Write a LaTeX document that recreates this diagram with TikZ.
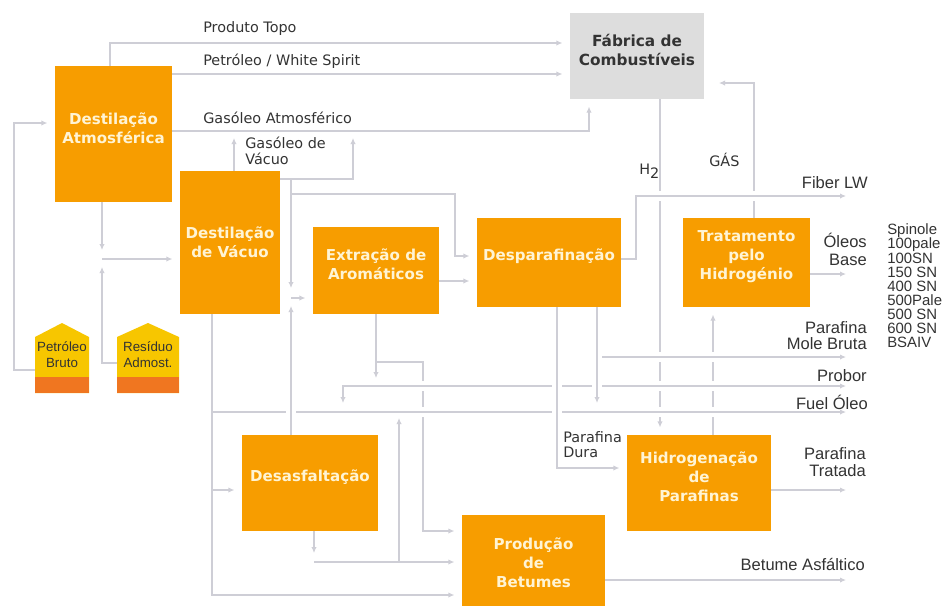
\documentclass[tikz,border=0pt]{standalone}
\usepackage{fontspec}
\setmainfont{DejaVu Sans}
\newfontfamily\lib{Liberation Sans}
\usetikzlibrary{arrows.meta,fit}
\definecolor{org}{RGB}{247,157,0}
\definecolor{boxtxt}{RGB}{255,244,212}
\definecolor{gbox}{RGB}{221,221,221}
\definecolor{ln}{RGB}{206,206,214}
\definecolor{lbl}{RGB}{51,51,51}
\definecolor{housey}{RGB}{247,198,0}
\definecolor{houseb}{RGB}{240,118,32}
\begin{document}
\begin{tikzpicture}[x=0.75pt,y=-0.75pt,
  obox/.style={fill=org, inner sep=0pt, text=boxtxt, align=center,
    font=\fontsize{11.3}{14.2}\selectfont\bfseries},
  gbx/.style={fill=gbox, inner sep=0pt, text=lbl, align=center,
    font=\fontsize{11.5}{14.2}\selectfont\bfseries},
  lab/.style={text=lbl, inner sep=0pt, anchor=west, align=left,
    font=\fontsize{10.8}{12}\selectfont},
  rlab/.style={text=lbl, inner sep=0pt, anchor=east, align=right,
    font=\lib\fontsize{12.4}{13}\selectfont},
  htxt/.style={text=lbl, inner sep=0pt, align=center,
    font=\lib\fontsize{10}{12}\selectfont},
  flow/.style={draw=ln, line width=0.9pt, -{Latex[length=4.5pt,width=4pt]}},
  flow2/.style={draw=ln, line width=0.9pt, {Latex[length=4.5pt,width=4pt]}-{Latex[length=4.5pt,width=4pt]}},
  sb/.style={shorten >=5.5pt},
  jump/.style={preaction={draw=white, line width=7pt, arrows=-}},
]
\useasboundingbox (0,0) rectangle (949,608);
\fill[white] (0,0) rectangle (949,608);

% ---------- houses (shapes) ----------
\fill[housey] (35,393) -- (35,337) -- (62,323) -- (89,337) -- (89,393) -- cycle;
\fill[houseb] (35,377) rectangle (89,393);
\fill[housey] (117,393) -- (117,337) -- (148,323) -- (179,337) -- (179,393) -- cycle;
\fill[houseb] (117,377) rectangle (179,393);
\node[htxt, fit={(35,330) (89,390)}] (pb) {Petróleo\\Bruto};
\node[htxt, fit={(117,330) (179,390)}] (rs) {Resíduo\\Admost.};

% ---------- boxes (invisible placement first, filled later) ----------
\path node[fit={(55,66) (172,202)}, inner sep=0pt] (da) {}
      node[fit={(570,13) (704,99)}, inner sep=0pt] (fab) {}
      node[fit={(180,171) (280,314)}, inner sep=0pt] (dv) {}
      node[fit={(313,227) (439,314)}, inner sep=0pt] (ea) {}
      node[fit={(477,218) (621,307)}, inner sep=0pt] (dp) {}
      node[fit={(683,218) (810,307)}, inner sep=0pt] (tr) {}
      node[fit={(627,435) (771,531)}, inner sep=0pt] (hp) {}
      node[fit={(242,435) (378,531)}, inner sep=0pt] (dz) {}
      node[fit={(462,515) (605,606)}, inner sep=0pt] (pr) {};

% ---------- connectors: base layer ----------
\draw[flow,sb] (pb.west|-0,370) -- (14,370) -- (14,123) -- (da.west|-0,123);
\draw[flow] (rs.west|-0,363) -- (102,363) -- (102,267);
\draw[flow] (da.south-|102,0) -- (102,250);
\draw[flow,sb] (102,259) -- (dv.west|-0,259);
\draw[flow,sb] (da.north-|110,0) -- (110,43) -- (fab.west|-0,43);
\draw[flow,sb] (da.east|-0,74) -- (fab.west|-0,74);
\draw[flow,sb] (da.east|-0,131) -- (589,131) -- (fab.south-|589,0);
\draw[flow] (dv.north-|234,0) -- (234,138);
\draw[flow] (dv.east|-0,179) -- (353,179) -- (353,138);
\draw[flow] (291,179) -- (291,288);
\draw[flow,sb] (291,194) -- (455,194) -- (455,256) -- (dp.west|-0,256);
\draw[flow,sb] (ea.east|-0,281) -- (dp.west|-0,281);
\draw[flow] (ea.south) -- (376,378);
\draw[flow,sb] (376,362) -- (423,362) -- (423,531) -- (pr.west|-0,531);
\draw[flow,sb] (fab.south-|660,0) -- (hp.north-|660,0);
\draw[flow,sb] (hp.north-|713,0) -- (tr.south-|713,0);
\draw[flow] (tr.north-|754,0) -- (754,83) -- (719,83);
\draw[flow] (tr.east|-0,274) -- (846,274);
\draw[flow] (hp.east|-0,490) -- (846,490);
\draw[flow] (pr.east|-0,580) -- (846,580);

% ---------- horizontals crossing over ----------
\draw[flow2,jump] (343,403) -- (343,386) -- (846,386);
\draw[flow,jump] (212,412) -- (846,412);
\draw[flow,jump] (597,357) -- (846,357);
\draw[flow,jump] (dp.east|-0,259) -- (636,259) -- (636,196) -- (846,196);

% ---------- verticals crossing over ----------
\draw[flow,sb,jump] (dp.south-|557,0) -- (557,468) -- (hp.west|-0,468);
\draw[flow,jump] (dp.south-|597,0) -- (597,403);
\draw[flow,jump] (dz.north-|291,0) -- (291,306);

% ---------- top layer ----------
\draw[flow,sb] (291,298) -- (ea.west|-0,298);
\draw[flow,sb] (dv.south-|212,0) -- (212,595) -- (pr.west|-0,595);
\draw[flow,sb] (212,490) -- (dz.west|-0,490);
\draw[flow] (dz.south-|314,0) -- (314,553);
\draw[flow,sb] (314,562) -- (pr.west|-0,562);
\draw[flow] (399,562) -- (399,418);

% ---------- boxes ----------
\node[obox, fit={(55,66) (172,202)}] (da2) {Destilação\\Atmosférica};
\node[gbx, fit={(570,13) (704,99)}] (fab2) {Fábrica de\\Combustíveis};
\node[obox, fit={(180,171) (280,314)}] (dv2) {};
\node[obox, text=boxtxt] (dvt) at (230,242) {Destilação\\de Vácuo};
\node[obox, fit={(313,227) (439,314)}] (ea2) {Extração de\\Aromáticos};
\node[obox, fit={(477,218) (621,307)}] (dp2) {Desparafinação};
\node[obox, fit={(683,218) (810,307)}] (tr2) {Tratamento\\pelo\\Hidrogénio};
\node[obox, fit={(627,435) (771,531)}] (hp2) {Hidrogenação\\de\\Parafinas};
\node[obox, fit={(242,435) (378,531)}] (dz2) {Desasfaltação};
\node[obox, fit={(462,515) (605,606)}] (pr2) {};
\node[obox] (prt) at (533.5,563) {Produção\\de\\Betumes};

% ---------- labels ----------
\node[lab] (l1) at (203,29) {Produto Topo};
\node[lab] (l2) at (203,61) {Petróleo / White Spirit};
\node[lab] (l3) at (203,118) {Gasóleo Atmosférico};
\node[lab] (l4) at (245,151) {Gasóleo de\\Vácuo};
\node[lab] (l5) at (639,171) {H\raisebox{-0.5ex}{2}};
\node[lab] (l6) at (709,160) {GÁS};
\node[lab, font=\fontsize{10.8}{11.3}\selectfont] (l7) at (563,445) {Parafina\\Dura};
\node[rlab] (r1) at (868,183) {Fiber LW};
\node[rlab, font=\lib\fontsize{12.4}{13.5}\selectfont] (r2) at (867,249) {Óleos\\Base};
\node[rlab, font=\lib\fontsize{12.4}{12}\selectfont] (r3) at (867,336) {Parafina\\Mole Bruta};
\node[rlab] (r4) at (867,376) {Probor};
\node[rlab] (r5) at (868,402) {Fuel Óleo};
\node[rlab, font=\lib\fontsize{12.4}{12.8}\selectfont] (r6) at (866,462) {Parafina\\Tratada};
\node[rlab] (r7) at (865,564) {Betume Asfáltico};
\node[lab, font=\lib\fontsize{11.2}{10.6}\selectfont] (sp) at (887,286)
  {Spinole\\100pale\\100SN\\150 SN\\400 SN\\500Pale\\500 SN\\600 SN\\BSAIV};
\end{tikzpicture}
\end{document}
